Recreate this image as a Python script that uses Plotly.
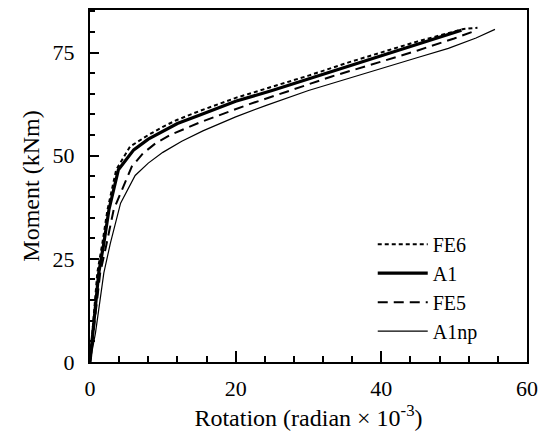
import plotly.graph_objects as go

# ---- data ----
fe6_x = [0, 1.0, 1.7, 2.4, 3.6, 5.5, 8, 10, 12, 15, 20, 25, 30, 35.5, 40, 45, 51.3, 53.2]
fe6_y = [0, 21.6, 28.8, 36.9, 46.6, 52.2, 55.0, 57.0, 58.7, 60.8, 64.0, 66.7, 69.4, 72.6, 75.0, 77.7, 80.7, 81.0]

a1_x = [0, 1.2, 1.9, 2.6, 3.9, 6, 8, 10, 12, 15, 20, 25, 30, 35.5, 40, 45, 51]
a1_y = [0, 21.6, 28.8, 36.9, 46.6, 51.4, 54.0, 56.0, 57.8, 59.8, 63.2, 65.8, 68.6, 71.8, 74.3, 77.0, 80.4]

fe5_x = [0, 1.4, 2.2, 3.25, 5.75, 7.3, 9, 11, 15, 21.9, 27, 33.2, 40, 45, 50, 52.5]
fe5_y = [0, 21.6, 28.0, 36.9, 47.4, 50.6, 53.0, 55.0, 58.0, 62.5, 65.5, 69.2, 72.8, 75.5, 78.4, 80.0]

a1np_x = [0, 0.75, 1.9, 2.8, 4.2, 6.2, 8, 10, 12.6, 15.5, 20, 24.2, 30, 35.5, 41, 45, 49.2, 53, 55.6]
a1np_y = [0, 7.0, 21.6, 28.8, 38.5, 45.2, 48.2, 50.8, 53.5, 56.0, 59.4, 62.2, 65.8, 68.8, 71.8, 73.8, 76.0, 78.5, 80.6]

x_ticks = [0, 20, 40, 60]
y_ticks = [0, 25, 50, 75]

FONT = "Liberation Serif"
TFONT = dict(family=FONT, size=22, color="black")

fig = go.Figure()
fig.add_trace(go.Scatter(x=fe6_x, y=fe6_y, mode="lines", name="FE6",
                         line=dict(color="black", width=2, dash="4px,3px")))
fig.add_trace(go.Scatter(x=a1_x, y=a1_y, mode="lines", name="A1",
                         line=dict(color="black", width=3.2)))
fig.add_trace(go.Scatter(x=fe5_x, y=fe5_y, mode="lines", name="FE5",
                         line=dict(color="black", width=2, dash="10px,6px")))
fig.add_trace(go.Scatter(x=a1np_x, y=a1np_y, mode="lines", name="A1np",
                         line=dict(color="black", width=1.2)))

fig.update_layout(
    width=548, height=438,
    margin=dict(l=89.5, r=20.5, t=9.5, b=75.5, autoexpand=False),
    paper_bgcolor="white", plot_bgcolor="white",
    font=TFONT,
    legend=dict(x=0.647, y=0.39, xanchor="left", yanchor="top",
                bgcolor="rgba(0,0,0,0)", font=dict(family=FONT, size=20, color="black"),
                tracegroupgap=0, itemwidth=50),
    showlegend=True,
)
fig.update_xaxes(
    range=[0, 60], tickmode="array", tickvals=x_ticks, ticktext=[str(v) for v in x_ticks],
    ticks="inside", ticklen=11, tickwidth=2, tickcolor="black",
    minor=dict(dtick=4, tick0=0, ticks="inside", ticklen=6, tickwidth=1.5, tickcolor="black"),
    showline=True, linewidth=2, linecolor="black", mirror=True,
    showgrid=False, zeroline=False, automargin=False,
    tickfont=TFONT,
    title=dict(text="Rotation (radian × 10<sup>-3</sup>)", standoff=8,
               font=dict(family=FONT, size=24, color="black")),
    ticklabelstandoff=6,
)
fig.update_yaxes(
    range=[0, 85.3], tickmode="array", tickvals=y_ticks, ticktext=[str(v) for v in y_ticks],
    ticks="inside", ticklen=9, tickwidth=2, tickcolor="black",
    minor=dict(dtick=5, tick0=0, ticks="inside", ticklen=5, tickwidth=1.5, tickcolor="black"),
    showline=True, linewidth=2, linecolor="black", mirror=True,
    showgrid=False, zeroline=False, automargin=False,
    tickfont=TFONT,
    title=dict(text="Moment (kNm)", standoff=6,
               font=dict(family=FONT, size=24, color="black")),
    ticklabelstandoff=9,
)

fig.write_html("out.html", config={"displayModeBar": False},
               post_script="document.body.style.margin='0';document.body.style.padding='0';")
